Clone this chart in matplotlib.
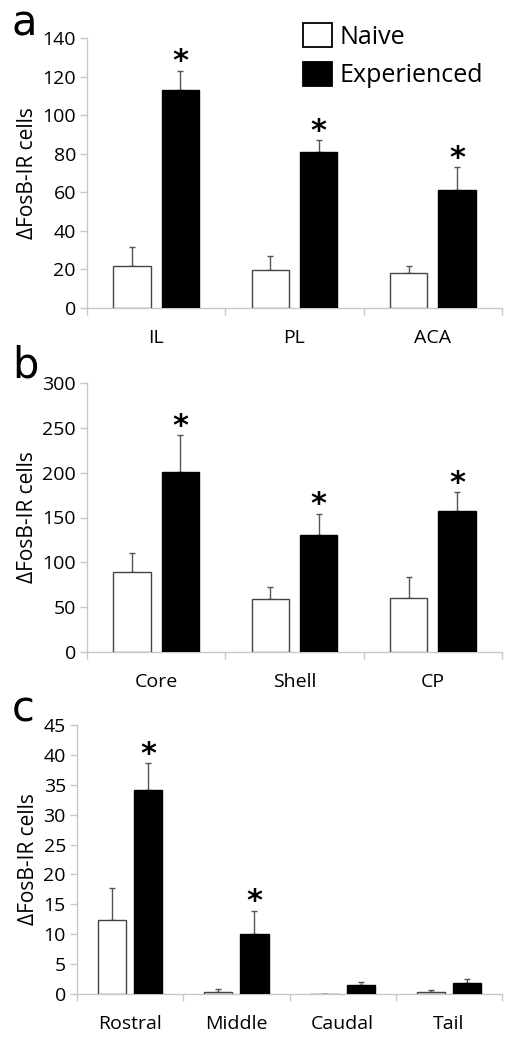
import matplotlib
matplotlib.use("Agg")
import matplotlib.pyplot as plt
from matplotlib.patches import Patch
import numpy as np

plt.rcParams['font.family'] = ['Open Sans', 'DejaVu Sans']

# ---- data ----
cats_a = ["IL", "PL", "ACA"]
naive_a = [22, 19.5, 18]
naive_a_top = [31.5, 27, 22]
exp_a = [113, 81, 61]
exp_a_top = [123, 87, 73]
sig_a = [True, True, True]
yticks_a = [0, 20, 40, 60, 80, 100, 120, 140]

cats_b = ["Core", "Shell", "CP"]
naive_b = [89.5, 59, 60]
naive_b_top = [110, 72, 84]
exp_b = [201, 131, 157.5]
exp_b_top = [242, 154, 178]
sig_b = [True, True, True]
yticks_b = [0, 50, 100, 150, 200, 250, 300]

cats_c = ["Rostral", "Middle", "Caudal", "Tail"]
naive_c = [12.4, 0.35, 0.05, 0.35]
naive_c_top = [17.7, 0.8, 0.05, 0.6]
exp_c = [34.2, 10.0, 1.5, 1.8]
exp_c_top = [38.6, 13.9, 2.0, 2.45]
sig_c = [True, True, False, False]
yticks_c = [0, 5, 10, 15, 20, 25, 30, 35, 40, 45]

W, H = 510, 1050
fig = plt.figure(figsize=(W / 100, H / 100), dpi=100)

AX_GRAY = "#c8c8c8"
ERR_COL = "#555555"


def px_rect(left, right, top, bottom):
    return [left / W, 1 - bottom / H, (right - left) / W, (bottom - top) / H]


def panel(rect, cats, nv, nv_top, ev, ev_top, sig, yticks, width, offset, letter, letter_xy):
    ax = fig.add_axes(rect)
    n = len(cats)
    x = np.arange(n) + 0.5
    ax.bar(x - offset, nv, width, color="white", edgecolor="#444444", linewidth=1.0, zorder=3)
    ax.bar(x + offset, ev, width, color="black", edgecolor="black", linewidth=1.0, zorder=3)
    nv = np.array(nv); ev = np.array(ev)
    ax.errorbar(x - offset, nv, yerr=[np.zeros(n), np.array(nv_top) - nv], fmt="none",
                ecolor=ERR_COL, elinewidth=1.0, capsize=2.5, capthick=1.0, zorder=2)
    ax.errorbar(x + offset, ev, yerr=[np.zeros(n), np.array(ev_top) - ev], fmt="none",
                ecolor=ERR_COL, elinewidth=1.0, capsize=2.5, capthick=1.0, zorder=2)
    for i in range(n):
        if sig[i]:
            ax.annotate("*", (x[i] + offset, ev_top[i]), xytext=(0, -4), textcoords="offset points",
                        ha="center", va="bottom", fontsize=22, fontweight="bold",
                        family="DejaVu Sans")
    ax.set_xlim(0, n)
    ax.set_ylim(0, yticks[-1])
    ax.set_yticks(yticks)
    ax.set_xticks(x)
    ax.set_xticklabels(cats, fontsize=14)
    ax.set_xticks(np.arange(n + 1), minor=True)
    ax.tick_params(axis="x", which="major", length=0, pad=15)
    ax.tick_params(axis="x", which="minor", length=5, color=AX_GRAY, width=1)
    ax.tick_params(axis="y", length=5, color=AX_GRAY, width=1, labelsize=14, pad=3)
    for s in ["top", "right"]:
        ax.spines[s].set_visible(False)
    for s in ["left", "bottom"]:
        ax.spines[s].set_color(AX_GRAY)
        ax.spines[s].set_linewidth(1)
    ax.set_ylabel("ΔFosB-IR cells", fontsize=15, labelpad=3)
    fig.text(letter_xy[0] / W, 1 - letter_xy[1] / H, letter, fontsize=30,
             ha="center", va="center", family="DejaVu Sans")
    return ax


ax_a = panel(px_rect(87, 502, 38, 308), cats_a, naive_a, naive_a_top, exp_a, exp_a_top,
             sig_a, yticks_a, 0.27, 0.175, "a", (24, 24))
ax_b = panel(px_rect(87, 502, 383, 652), cats_b, naive_b, naive_b_top, exp_b, exp_b_top,
             sig_b, yticks_b, 0.27, 0.175, "b", (25, 366))
ax_c = panel(px_rect(77, 502, 725, 994), cats_c, naive_c, naive_c_top, exp_c, exp_c_top,
             sig_c, yticks_c, 0.265, 0.17, "c", (23, 710))

handles = [Patch(facecolor="white", edgecolor="black", linewidth=1.3, label="Naive"),
           Patch(facecolor="black", edgecolor="black", linewidth=1.3, label="Experienced")]
fig.legend(handles=handles, loc="upper left", bbox_to_anchor=(303 / W, 1 - 23 / H),
           frameon=False, fontsize=18, handlelength=1.15, handleheight=1.1,
           handletextpad=0.3, labelspacing=0.5, borderpad=0, borderaxespad=0)

fig.savefig("out.png", dpi=100)
